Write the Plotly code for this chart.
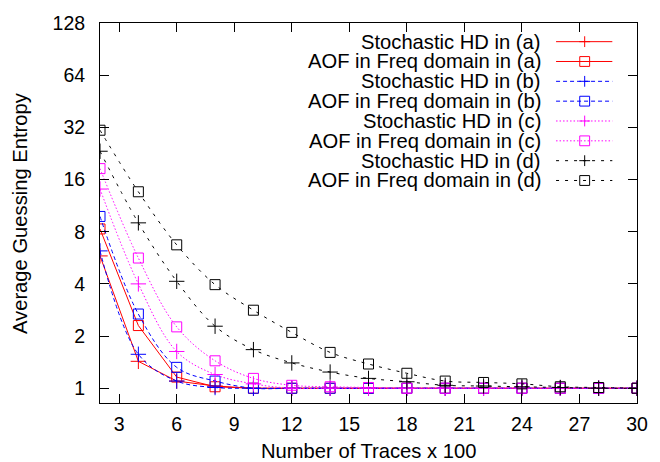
import plotly.graph_objects as go

# ---------------- data ----------------
traces_x = [2, 4, 6, 8, 10, 12, 14, 16, 18, 20, 22, 24, 26, 28, 30]

stoch_a = [5.8, 1.43, 1.10, 1.03, 1.0, 1.0, 1.0, 1.0, 1.0, 1.0, 1.0, 1.0, 1.0, 1.0, 1.0]
aof_a = [8.3, 2.30, 1.16, 1.02, 1.0, 1.0, 1.0, 1.0, 1.0, 1.0, 1.0, 1.0, 1.0, 1.0, 1.0]
stoch_b = [6.2, 1.57, 1.10, 1.01, 1.0, 1.0, 1.0, 1.0, 1.0, 1.0, 1.0, 1.0, 1.0, 1.0, 1.0]
aof_b = [9.8, 2.68, 1.32, 1.10, 1.0, 1.0, 1.0, 1.0, 1.0, 1.0, 1.0, 1.0, 1.0, 1.0, 1.0]
stoch_c = [14.1, 4.0, 1.63, 1.20, 1.06, 1.0, 1.0, 1.0, 1.0, 1.0, 1.0, 1.0, 1.0, 1.0, 1.0]
aof_c = [18.5, 5.64, 2.26, 1.44, 1.14, 1.04, 1.02, 1.01, 1.0, 1.0, 1.0, 1.0, 1.0, 1.0, 1.0]
stoch_d = [23.3, 9.0, 4.14, 2.28, 1.67, 1.40, 1.24, 1.14, 1.09, 1.04, 1.03, 1.02, 1.01, 1.0, 1.0]
aof_d = [30.8, 13.6, 6.72, 3.96, 2.82, 2.10, 1.61, 1.38, 1.22, 1.10, 1.08, 1.06, 1.02, 1.01, 1.0]

series_names = [
    "Stochastic HD in (a)", "AOF in Freq domain in (a)",
    "Stochastic HD in (b)", "AOF in Freq domain in (b)",
    "Stochastic HD in (c)", "AOF in Freq domain in (c)",
    "Stochastic HD in (d)", "AOF in Freq domain in (d)",
]
series_values = [stoch_a, aof_a, stoch_b, aof_b, stoch_c, aof_c, stoch_d, aof_d]

x_ticks = [3, 6, 9, 12, 15, 18, 21, 24, 27, 30]
y_ticks = [1, 2, 4, 8, 16, 32, 64, 128]
y_tick_labels = ["1", "2", "4", "8", "16", "32", "64", "128"]

# ---------------- styles ----------------
colors = ["#ff0000", "#ff0000", "#0000ff", "#0000ff",
          "#ff00ff", "#ff00ff", "#000000", "#000000"]
dashes = ["solid", "solid", "4px,3px", "4px,3px",
          "1.5px,2px", "1.5px,2px", "3px,6px", "3px,6px"]
shapes_ln = ["linear", "linear", "spline", "spline",
             "spline", "spline", "spline", "spline"]
symbols = ["cross-thin-open", "square-open"] * 4

W, H = 660, 462
L, R, T, B = 100, 644, 16, 403
FONT = "Liberation Sans, Arial, sans-serif"
FS_TICK = 19.5
FS_TEXT = 20.2


def px(xp):
    return (xp - L) / (R - L)


def py(yp):
    return (B - yp) / (B - T)


fig = go.Figure()
for name, vals, c, d, sh, sym in zip(series_names, series_values, colors,
                                     dashes, shapes_ln, symbols):
    fig.add_trace(go.Scatter(
        x=traces_x, y=vals, name=name, mode="lines+markers",
        line=dict(color=c, width=1, dash=d, shape=sh),
        marker=dict(symbol=sym, size=11 if sym.startswith("cross") else 10,
                    color=c, line=dict(color=c, width=1)),
        showlegend=False,
    ))

# ---------------- custom gnuplot-style key ----------------
annotations = []
shapes = []
row0, row_gap = 35, 20.2
for i, (name, c, d, sym) in enumerate(zip(series_names, colors, dashes, symbols)):
    yc = row0 + i * row_gap
    annotations.append(dict(
        x=px(548), y=py(yc), xref="paper", yref="paper", text=name,
        showarrow=False, xanchor="right", yanchor="middle", borderpad=0,
        font=dict(family=FONT, size=FS_TEXT, color="black")))
    shapes.append(dict(type="line", xref="paper", yref="paper",
                       x0=px(562), x1=px(619), y0=py(yc), y1=py(yc),
                       line=dict(color=c, width=1, dash=d)))
    if sym.startswith("cross"):
        shapes.append(dict(type="line", xref="paper", yref="paper",
                           x0=px(585.5), x1=px(596.5), y0=py(yc), y1=py(yc),
                           line=dict(color=c, width=1)))
        shapes.append(dict(type="line", xref="paper", yref="paper",
                           x0=px(591), x1=px(591), y0=py(yc - 5.5), y1=py(yc + 5.5),
                           line=dict(color=c, width=1)))
    else:
        shapes.append(dict(type="rect", xref="paper", yref="paper",
                           x0=px(586), x1=px(596), y0=py(yc - 5), y1=py(yc + 5),
                           line=dict(color=c, width=1)))

# axis titles
annotations.append(dict(
    x=px(371.7), y=py(452), xref="paper", yref="paper",
    text="Number of Traces x 100", showarrow=False,
    xanchor="center", yanchor="middle",
    font=dict(family=FONT, size=FS_TEXT, color="black")))
annotations.append(dict(
    x=px(19), y=py(209.5), xref="paper", yref="paper",
    text="Average Guessing Entropy", showarrow=False, textangle=-90,
    xanchor="center", yanchor="middle",
    font=dict(family=FONT, size=FS_TEXT, color="black")))

axis_common = dict(
    showline=True, linecolor="black", linewidth=1, mirror="ticks",
    ticks="inside", ticklen=9, tickwidth=1, tickcolor="black",
    showgrid=False, zeroline=False,
    tickfont=dict(family=FONT, size=FS_TICK, color="black"),
)

fig.update_layout(
    width=W, height=H,
    margin=dict(l=L, r=W - R, t=T, b=H - B, pad=0),
    paper_bgcolor="white", plot_bgcolor="white",
    showlegend=False,
    xaxis=dict(range=[2, 30], tickvals=x_ticks, ticklabelstandoff=4,
               **axis_common),
    yaxis=dict(type="log", range=[-0.0851, 2.1072], tickvals=y_ticks,
               ticktext=y_tick_labels, ticklabelstandoff=10, **axis_common),
    annotations=annotations,
    shapes=shapes,
)

fig.write_html(
    "out.html",
    config={"displayModeBar": False},
    post_script="document.body.style.margin='0';document.body.style.padding='0';",
)
